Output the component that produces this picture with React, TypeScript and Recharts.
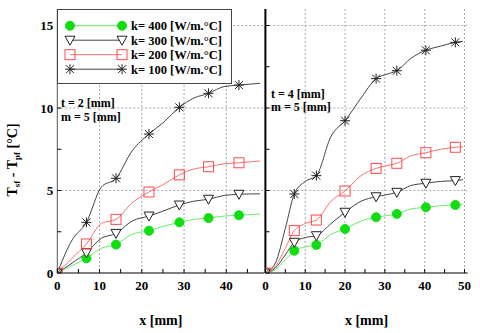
import React from 'react';
import { LineChart, Line, XAxis, YAxis, CartesianGrid } from 'recharts';

// t = 2 mm panel
const leftX = [0, 3.5, 6.9, 10.4, 13.9, 17.7, 21.7, 25, 28.9, 32.3, 35.8, 39.5, 43.0, 48];
const leftMarks = [0, 2, 4, 6, 8, 10, 12];
const leftK400 = [0, 0.45, 0.89, 1.5, 1.72, 2.35, 2.56, 2.82, 3.07, 3.25, 3.33, 3.45, 3.5, 3.58];
const leftK300 = [0, 0.6, 1.23, 2.1, 2.4, 3.15, 3.45, 3.75, 4.12, 4.35, 4.47, 4.7, 4.77, 4.8];
const leftK200 = [0, 0.9, 1.76, 3.0, 3.25, 4.25, 4.91, 5.35, 5.95, 6.3, 6.44, 6.62, 6.68, 6.79];
const leftK100 = [0, 2.0, 3.07, 5.2, 5.74, 7.4, 8.42, 9.1, 10.04, 10.6, 10.89, 11.3, 11.39, 11.5];

// t = 4 mm panel
const rightX = [0, 2.5, 5, 7.26, 10, 12.8, 16.5, 20.0, 24, 27.8, 30.5, 33.0, 36.5, 40.3, 44, 47.7, 49.6];
const rightMarks = [0, 3, 5, 7, 9, 11, 13, 15];
const rightK400 = [0, 0.2, 0.8, 1.35, 1.58, 1.7, 2.35, 2.67, 3.15, 3.38, 3.48, 3.58, 3.88, 3.98, 4.08, 4.12, 4.15];
const rightK300 = [0, 0.3, 1.1, 1.86, 2.15, 2.26, 3.0, 3.68, 4.35, 4.62, 4.75, 4.89, 5.3, 5.44, 5.55, 5.6, 5.65];
const rightK200 = [0, 0.4, 1.5, 2.57, 3.0, 3.21, 4.35, 4.97, 5.9, 6.34, 6.5, 6.65, 7.1, 7.29, 7.5, 7.62, 7.65];
const rightK100 = [0, 0.6, 2.7, 4.79, 5.55, 5.9, 8.3, 9.23, 10.6, 11.78, 12.05, 12.26, 13.0, 13.5, 13.75, 13.98, 14.05];

const yTicks = [0, 2.5, 5, 7.5, 10, 12.5, 15];
const xTicksLeft = [0, 5, 10, 15, 20, 25, 30, 35, 40, 45];
const xTicksRight = [0, 5, 10, 15, 20, 25, 30, 35, 40, 45, 50];

const FONT = "'Liberation Serif', 'Times New Roman', serif";
const T = 9;
const B = 273;

const series = [
    { key: 'k400', name: 'k= 400 [W/m.°C]', line: '#66ee66', color: '#11dd11', marker: 'circle' },
    { key: 'k300', name: 'k= 300 [W/m.°C]', line: '#444444', color: '#222222', marker: 'triangle' },
    { key: 'k200', name: 'k= 200 [W/m.°C]', line: '#ff7070', color: '#ff4a4a', marker: 'square' },
    { key: 'k100', name: 'k= 100 [W/m.°C]', line: '#444444', color: '#222222', marker: 'star' },
];

const marker = (kind: string, cx: number, cy: number, color: string, key?: any) => {
    if (kind === 'circle') return <circle key={key} cx={cx} cy={cy} r={4.5} fill={color} stroke={color} />;
    if (kind === 'triangle')
        return <polygon key={key} points={`${cx - 5},${cy - 4} ${cx + 5},${cy - 4} ${cx},${cy + 5}`} fill="#fff" stroke={color} strokeWidth={1} />;
    if (kind === 'square')
        return <rect key={key} x={cx - 5} y={cy - 5} width={10} height={10} fill="none" stroke={color} strokeWidth={1} />;
    return (
        <g key={key} stroke={color} strokeWidth={1}>
            <line x1={cx - 5} x2={cx + 5} y1={cy} y2={cy} />
            <line x1={cx} x2={cx} y1={cy - 5} y2={cy + 5} />
            <line x1={cx - 4} x2={cx + 4} y1={cy - 4} y2={cy + 4} />
            <line x1={cx - 4} x2={cx + 4} y1={cy + 4} y2={cy - 4} />
        </g>
    );
};

const build = (xs: number[], a: number[], b: number[], c: number[], d: number[]) =>
    xs.map((x, i) => ({ x, k400: a[i], k300: b[i], k200: c[i], k100: d[i] }));

const leftData = build(leftX, leftK400, leftK300, leftK200, leftK100);
const rightData = build(rightX, rightK400, rightK300, rightK200, rightK100);

interface PanelProps {
    data: any[];
    marks: number[];
    xMax: number;
    xTicks: number[];
    gridX: number[];
    width: number;
    left: number;
    yAxisWidth: number;
    rightMargin: number;
    showY: boolean;
}

const Panel: React.FC<PanelProps> = ({ data, marks, xMax, xTicks, gridX, width, left, yAxisWidth, rightMargin, showY }) => {
    const L = yAxisWidth;
    const R = width - rightMargin;
    const txt = { fontFamily: FONT, fontWeight: 700, fontSize: 13, fill: '#000' };

    const bottomTick = (p: any) => (
        <g>
            <line x1={p.x} x2={p.x} y1={B} y2={B - 4} stroke="#000" />
            {p.payload.value % 10 === 0 && (
                <text x={p.x} y={290} textAnchor="middle" style={txt}>{p.payload.value}</text>
            )}
        </g>
    );
    const topTick = (p: any) => <line x1={p.x} x2={p.x} y1={T} y2={T + 4} stroke="#777" />;
    const leftTick = (p: any) => (
        <g>
            <line x1={L} x2={L + 4} y1={p.y} y2={p.y} stroke="#000" />
            {showY && p.payload.value % 5 === 0 && (
                <text x={L - 4} y={p.y + 4.5} textAnchor="end" style={txt}>{p.payload.value}</text>
            )}
        </g>
    );
    const rightTick = (p: any) => <line x1={R} x2={R - 4} y1={p.y} y2={p.y} stroke="#777" />;

    return (
        <div style={{ position: 'absolute', left, top: 0 }}>
            <LineChart width={width} height={333} data={data} margin={{ top: T, right: rightMargin, bottom: 0, left: 0 }}>
                <CartesianGrid stroke="#aaa" strokeDasharray="2 2" horizontalValues={[5, 10, 15]} verticalValues={gridX} />
                <XAxis dataKey="x" type="number" domain={[0, xMax]} ticks={xTicks} allowDataOverflow height={60}
                       axisLine={{ stroke: '#000' }} tickLine={false} tick={bottomTick} interval={0} />
                <XAxis xAxisId="top" orientation="top" type="number" domain={[0, xMax]} ticks={xTicks} allowDataOverflow
                       height={0} axisLine={{ stroke: '#888' }} tickLine={false} tick={topTick} interval={0} />
                <YAxis type="number" domain={[0, 16]} ticks={yTicks} allowDataOverflow width={yAxisWidth}
                       axisLine={{ stroke: showY ? '#555' : '#000', strokeWidth: showY ? 1 : 2 }} tickLine={false} tick={leftTick} interval={0} />
                <YAxis yAxisId="right" orientation="right" type="number" domain={[0, 16]} ticks={yTicks} allowDataOverflow width={0}
                       axisLine={{ stroke: showY ? '#000' : '#888', strokeWidth: showY ? 2 : 1.5 }} tickLine={false} tick={rightTick} interval={0} />
                {series.map((s) => (
                    <Line key={s.key} dataKey={s.key} type="monotone" stroke={s.line} strokeWidth={1}
                          isAnimationActive={false}
                          dot={(p: any) =>
                              marks.includes(p.index)
                                  ? marker(s.marker, p.cx, p.cy, s.color, `${s.key}-${p.index}`)
                                  : <g key={`${s.key}-${p.index}`} />
                          } />
                ))}
            </LineChart>
        </div>
    );
};

const App: React.FC = () => {
    const bold = { fontFamily: FONT, fontWeight: 700, fill: '#000' };
    return (
        <div style={{ position: 'absolute', left: 0, top: 0, width: 480, height: 333, background: '#fff' }}>
            <Panel data={leftData} marks={leftMarks} xMax={49} xTicks={xTicksLeft} gridX={[10, 20, 30, 40]}
                   width={266} left={0} yAxisWidth={57.3} rightMargin={1.7} showY={true} />
            <Panel data={rightData} marks={rightMarks} xMax={50.8} xTicks={xTicksRight} gridX={[10, 20, 30, 40, 50]}
                   width={218} left={262} yAxisWidth={3.4} rightMargin={12.3} showY={false} />
            <svg width={480} height={333} style={{ position: 'absolute', left: 0, top: 0, pointerEvents: 'none' }}>
                <text x={160.8} y={325} textAnchor="middle" style={{ ...bold, fontSize: 14 }}>x [mm]</text>
                <text x={366.5} y={325} textAnchor="middle" style={{ ...bold, fontSize: 14 }}>x [mm]</text>
                <text transform="translate(17,160) rotate(-90)" textAnchor="middle" style={{ ...bold, fontSize: 14 }}>
                    T<tspan fontSize={9} dy={3}>sf</tspan><tspan dy={-3}> - T</tspan><tspan fontSize={9} dy={3}>pf</tspan><tspan dy={-3}> [°C]</tspan>
                </text>
                <text x={61} y={107} style={{ ...bold, fontSize: 12 }}>t = 2 [mm]</text>
                <text x={61} y={121} style={{ ...bold, fontSize: 12 }}>m = 5 [mm]</text>
                <text x={271} y={97.5} style={{ ...bold, fontSize: 12 }}>t = 4 [mm]</text>
                <text x={271} y={111} style={{ ...bold, fontSize: 12 }}>m = 5 [mm]</text>
                <rect x={57.5} y={9.5} width={174} height={74} fill="#fff" stroke="#444" />
                {series.map((s, i) => {
                    const y = 25.7 + i * 14.5;
                    return (
                        <g key={s.key}>
                            <line x1={70} x2={122} y1={y} y2={y} stroke={s.line} />
                            {marker(s.marker, 70, y, s.color)}
                            {marker(s.marker, 122, y, s.color)}
                            <text x={131} y={y + 4.5} style={{ ...bold, fontSize: 12.5 }}>{s.name}</text>
                        </g>
                    );
                })}
            </svg>
        </div>
    );
};

export default App;
